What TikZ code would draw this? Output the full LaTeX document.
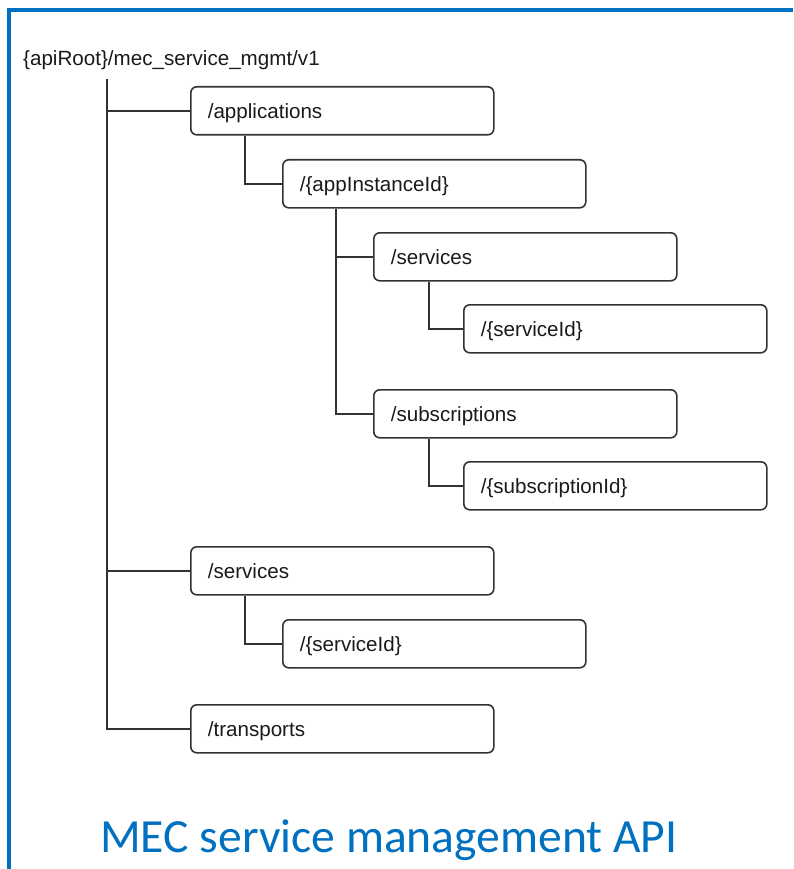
\documentclass[tikz,border=0pt]{standalone}
\usepackage{fontspec}
\setmainfont{Liberation Sans}
\newfontfamily\titlefont{Carlito}
\definecolor{frameblue}{HTML}{0070C0}
\definecolor{boxline}{HTML}{333333}
\definecolor{txt}{HTML}{1A1A1A}
\begin{document}
\begin{tikzpicture}[x=1pt,y=-1pt,
  res/.style={draw=boxline, line width=1.6pt, rounded corners=6pt, anchor=north west,
    minimum height=48pt, inner xsep=17pt, inner ysep=0pt, text width=269pt, align=left,
    text height=14.7pt, text depth=0pt, text=txt, font=\fontsize{20.6}{24}\selectfont},
  link/.style={draw=boxline, line width=1.8pt}]
\useasboundingbox (0,0) rectangle (793,869);
\draw[frameblue, line width=3.2pt] (9,869) -- (9,10) -- (793,10);

\node[anchor=base west, inner sep=0pt, text=txt, font=\fontsize{20.6}{24}\selectfont] (root) at (23,66) {\{apiRoot\}/mec\_service\_mgmt/v1};

\node[res] (applications) at (190,86) {/applications};
\node[res] (appinst) at (282,159) {/\{appInstanceId\}};
\node[res] (services1) at (373,232) {/services};
\node[res] (serviceid1) at (463,304) {/\{serviceId\}};
\node[res] (subscriptions) at (373,389) {/subscriptions};
\node[res] (subscriptionid) at (463,461) {/\{subscriptionId\}};
\node[res] (services2) at (190,546) {/services};
\node[res] (serviceid2) at (282,619) {/\{serviceId\}};
\node[res] (transports) at (190,704) {/transports};

\draw[link] ([xshift=84pt,yshift=-9pt]root.south west) |- (transports.west);
\draw[link] ([xshift=84pt,yshift=-9pt]root.south west) |- (applications.west);
\draw[link] ([xshift=84pt,yshift=-9pt]root.south west) |- (services2.west);
\draw[link] ([xshift=55pt]applications.south west) |- (appinst.west);
\draw[link] ([xshift=54pt]appinst.south west) |- (services1.west);
\draw[link] ([xshift=54pt]appinst.south west) |- (subscriptions.west);
\draw[link] ([xshift=56pt]services1.south west) |- (serviceid1.west);
\draw[link] ([xshift=56pt]subscriptions.south west) |- (subscriptionid.west);
\draw[link] ([xshift=55pt]services2.south west) |- (serviceid2.west);

\node[anchor=base west, inner sep=0pt, text=frameblue, font=\titlefont\fontsize{47.6}{56}\selectfont] (title) at (100,852) {MEC service management API};
\end{tikzpicture}
\end{document}
